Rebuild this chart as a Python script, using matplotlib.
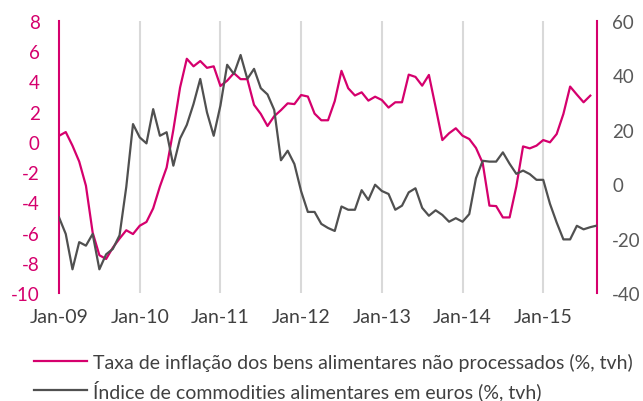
import matplotlib
matplotlib.use("Agg")
import matplotlib.pyplot as plt
import numpy as np

# monthly data, Jan-09 onwards
inflacao = [0.4, 0.65, -0.25, -1.3, -2.9, -6.0, -7.5, -7.75, -7.0, -6.4,
            -5.85, -6.1, -5.55, -5.3, -4.4, -2.95, -1.7, 0.8, 3.6, 5.5,
            5.0, 5.35, 4.9, 5.0, 3.7, 4.05, 4.55, 4.15, 4.15, 2.45,
            1.85, 1.05, 1.7, 2.1, 2.55, 2.5, 3.1, 3.0, 1.87, 1.43,
            1.43, 2.7, 4.7, 3.55, 3.07, 3.28, 2.73, 2.99, 2.77, 2.27,
            2.62, 2.62, 4.45, 4.3, 3.72, 4.43, 2.3, 0.12, 0.57, 0.9,
            0.41, 0.19, -0.4, -1.4, -4.22, -4.25, -5.0, -5.0, -2.95, -0.3,
            -0.43, -0.25, 0.12, -0.03, 0.52, 1.85, 3.66, 3.13, 2.62, 3.06]
commodities = [-12.2, -18.3, -31.3, -21.3, -22.6, -18.3, -31.3, -25.8, -23.8, -18.8,
               -1.0, 22.1, 17.2, 15.0, 27.6, 17.8, 19.1, 6.8, 16.8, 21.8,
               29.5, 38.7, 26.4, 17.8, 28.9, 43.9, 40.5, 47.5, 38.7, 42.4,
               35.3, 33.0, 27.3, 8.8, 12.3, 7.4, -2.6, -10.2, -10.2, -14.6,
               -16.1, -17.2, -8.2, -9.4, -9.4, -2.2, -5.8, -0.2, -2.5, -3.6,
               -9.4, -7.9, -3.0, -1.5, -8.7, -11.6, -9.6, -11.3, -13.8, -12.5,
               -13.8, -11.0, 2.2, 8.6, 8.3, 8.3, 11.7, 7.5, 3.8, 5.0,
               3.7, 1.6, 1.6, -7.2, -14.1, -20.3, -20.3, -15.3, -16.6, -15.8, -15.2]
xlabels = ["Jan-09", "Jan-10", "Jan-11", "Jan-12", "Jan-13", "Jan-14", "Jan-15"]
nome_inf = "Taxa de inflação dos bens alimentares não processados (%, tvh)"
nome_com = "Índice de commodities alimentares em euros (%, tvh)"

pink = "#D5006D"
grey = "#505050"
plt.rcParams['font.family'] = ['Lato', 'DejaVu Sans']
plt.rcParams['axes.unicode_minus'] = False

fig = plt.figure(figsize=(6.43, 4.02), dpi=100)
ax = fig.add_axes([0.0918, 0.2687, 0.8367, 0.6766])
ax2 = ax.twinx()

x1 = np.arange(len(inflacao))
x2 = np.arange(len(commodities))
l1, = ax.plot(x1, inflacao, color=pink, lw=1.6, zorder=3)
l2, = ax2.plot(x2, commodities, color=grey, lw=1.6, zorder=3)

ax.set_xlim(0, 80)
ax.set_ylim(-10, 8)
ax.set_yticks(np.arange(-10, 9, 2))
ax2.set_ylim(-40, 60)
ax2.set_yticks(np.arange(-40, 61, 20))

ax.set_xticks(np.arange(0, 80, 12))
ax.set_xticklabels(xlabels)
for g in np.arange(12, 80, 12):
    ax.axvline(g, color="#D9D9D9", lw=1.5, zorder=0)

for a in (ax, ax2):
    for s in ("top", "bottom", "left", "right"):
        a.spines[s].set_visible(False)
ax.spines["left"].set_visible(True)
ax.spines["left"].set_color(pink)
ax.spines["left"].set_linewidth(1.5)
ax2.spines["right"].set_visible(True)
ax2.spines["right"].set_color(pink)
ax2.spines["right"].set_linewidth(1.5)

ax.tick_params(axis="y", length=0, pad=14, labelsize=13.5, labelcolor=pink)
ax.tick_params(axis="x", length=0, pad=11, labelsize=14, labelcolor="#404040")
ax2.tick_params(axis="y", length=0, pad=11, labelsize=13.5, labelcolor="#595959")

fig.legend([l1, l2], [nome_inf, nome_com], loc="upper left",
           bbox_to_anchor=(0.028, 0.159), frameon=False, fontsize=14,
           handlelength=2.75, handletextpad=0.3, labelspacing=0.42,
           borderpad=0.3, labelcolor="#404040")

fig.savefig("out.png", dpi=100)
